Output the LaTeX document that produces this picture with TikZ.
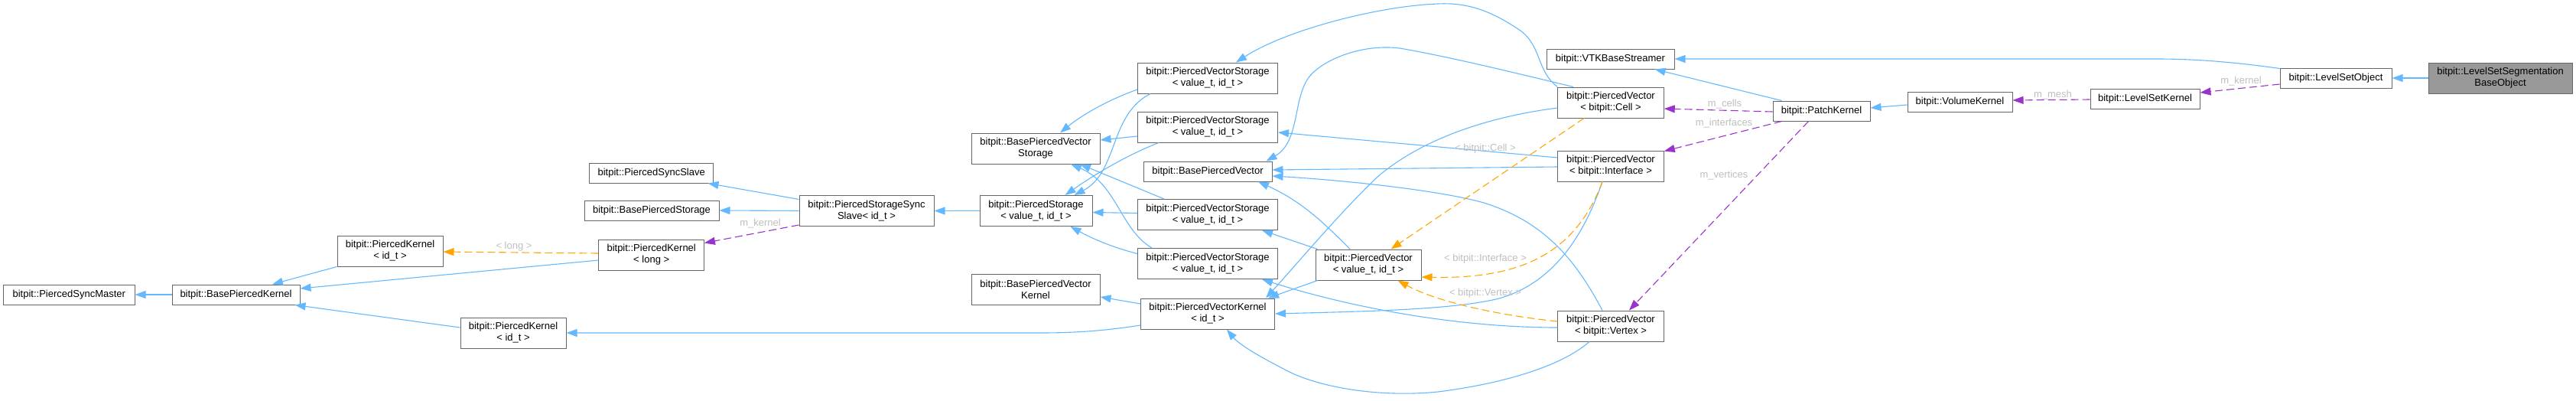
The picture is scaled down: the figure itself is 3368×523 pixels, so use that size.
\documentclass[tikz,border=0pt]{standalone}
\usepackage{fontspec}
\setmainfont{Liberation Sans}
\usetikzlibrary{arrows.meta,calc}
\definecolor{inhblue}{HTML}{63B8FF}
\definecolor{tmplorange}{HTML}{FFA500}
\definecolor{usepurple}{HTML}{9A32CD}
\definecolor{boxborder}{HTML}{666666}
\definecolor{labelgray}{HTML}{BEBEBE}
\definecolor{targetfill}{HTML}{999999}
\tikzset{
  box/.style={draw=boxborder, fill=white, line width=1pt, inner sep=0pt, align=center,
    font=\fontsize{13}{15}\selectfont, text=black},
  tip/.style={-{Triangle[length=14pt,width=10pt]}},
  inh/.style={draw=inhblue, line width=1.1pt, tip},
  tmpl/.style={draw=tmplorange, line width=1.1pt, dash pattern=on 10pt off 5pt, tip},
  usage/.style={draw=usepurple, line width=1.1pt, dash pattern=on 10pt off 5pt, tip},
  elabel/.style={text=labelgray, inner sep=0pt, font=\fontsize{13}{15}\selectfont}
}
\begin{document}
\begin{tikzpicture}[x=1pt,y=-1pt]
\useasboundingbox (0,0) rectangle (3368,523);
% nodes
\node[box, minimum width=171.4pt, minimum height=26pt] (psm) at (90.3,385) {bitpit::PiercedSyncMaster};
\node[box, minimum width=167pt, minimum height=26pt] (bpk) at (308.5,385) {bitpit::BasePiercedKernel};
\node[box, minimum width=138pt, minimum height=40pt] (pku) at (510,328) {bitpit::PiercedKernel\\< id\_t >};
\node[box, minimum width=162.5pt, minimum height=26pt] (pss) at (851.7,226) {bitpit::PiercedSyncSlave};
\node[box, minimum width=176pt, minimum height=26pt] (bps) at (852,275) {bitpit::BasePiercedStorage};
\node[box, minimum width=137.5pt, minimum height=40pt] (pkl) at (851.7,333) {bitpit::PiercedKernel\\< long >};
\node[box, minimum width=138pt, minimum height=40pt] (pkd) at (671,435) {bitpit::PiercedKernel\\< id\_t >};
\node[box, minimum width=176pt, minimum height=40pt] (psss) at (1133,275.5) {bitpit::PiercedStorageSync\\Slave< id\_t >};
\node[box, minimum width=147pt, minimum height=40pt] (ps) at (1354.5,275.5) {bitpit::PiercedStorage\\< value\_t, id\_t >};
\node[box, minimum width=168pt, minimum height=40pt] (bpvs) at (1354,194) {bitpit::BasePiercedVector\\Storage};
\node[box, minimum width=168pt, minimum height=40pt] (bpvk) at (1354,378) {bitpit::BasePiercedVector\\Kernel};
\node[box, minimum width=183pt, minimum height=40pt] (pvs1) at (1579,102) {bitpit::PiercedVectorStorage\\< value\_t, id\_t >};
\node[box, minimum width=183pt, minimum height=40pt] (pvs2) at (1579,166) {bitpit::PiercedVectorStorage\\< value\_t, id\_t >};
\node[box, minimum width=168pt, minimum height=26pt] (bpv) at (1579,224) {bitpit::BasePiercedVector};
\node[box, minimum width=183pt, minimum height=40pt] (pvs3) at (1579,280.5) {bitpit::PiercedVectorStorage\\< value\_t, id\_t >};
\node[box, minimum width=183pt, minimum height=40pt] (pvs4) at (1579,344.5) {bitpit::PiercedVectorStorage\\< value\_t, id\_t >};
\node[box, minimum width=175pt, minimum height=40pt] (pvk) at (1579,410) {bitpit::PiercedVectorKernel\\< id\_t >};
\node[box, minimum width=138pt, minimum height=40pt] (pvt) at (1789,346) {bitpit::PiercedVector\\< value\_t, id\_t >};
\node[box, minimum width=167pt, minimum height=26pt] (vtk) at (2105.5,77) {bitpit::VTKBaseStreamer};
\node[box, minimum width=138.5pt, minimum height=40pt] (pvc) at (2106,134) {bitpit::PiercedVector\\< bitpit::Cell >};
\node[box, minimum width=138.5pt, minimum height=40pt] (pvi) at (2106,217) {bitpit::PiercedVector\\< bitpit::Interface >};
\node[box, minimum width=138.5pt, minimum height=40pt] (pvv) at (2106,426) {bitpit::PiercedVector\\< bitpit::Vertex >};
\node[box, minimum width=127pt, minimum height=26pt] (pk) at (2381.5,145) {bitpit::PatchKernel};
\node[box, minimum width=137pt, minimum height=26pt] (vk) at (2562.5,133) {bitpit::VolumeKernel};
\node[box, minimum width=143pt, minimum height=26pt] (lsk) at (2804.5,129) {bitpit::LevelSetKernel};
\node[box, minimum width=146pt, minimum height=26pt] (lso) at (3054,102) {bitpit::LevelSetObject};
\node[box, fill=targetfill, minimum width=188pt, minimum height=40pt] (lssbo) at (3269,102) {bitpit::LevelSetSegmentation\\BaseObject};
% inheritance (blue)
\draw[inh] (bpk.west) -- (psm.east);
\draw[inh] (pku.south west) -- ($(bpk.north)+(47.5,0)$);
\draw[inh] ($(pkl.west)+(0,7)$) -- ($(bpk.east)+(0,-8)$);
\draw[inh] ($(pkd.west)+(0,-7)$) -- ($(bpk.south east)+(-7,0)$);
\draw[inh] ($(psss.west)+(0,-15)$) -- ($(pss.south east)+(-8,0)$);
\draw[inh] (psss.west) -- (bps.east);
\draw[inh] (ps.west) -- (psss.east);
\draw[inh] ($(pvk.west)+(0,15)$) .. controls (1440,433) and (1400,435) .. (1360,435) -- (pkd.east);
\draw[inh] ($(pvk.west)+(0,-13)$) -- ($(bpvk.east)+(0,10)$);
\draw[inh] ($(pvs1.west)+(0,15)$) .. controls (1450,130) and (1415,150) .. ($(bpvs.north)+(32,0)$);
\draw[inh] ($(pvs1.south west)+(17,0)$) .. controls (1450,150) and (1462,225) .. ($(ps.north)+(50,0)$);
\draw[inh] ($(pvs2.west)+(0,12)$) -- ($(bpvs.east)+(0,-11)$);
\draw[inh] ($(pvs2.south west)+(28,0)$) .. controls (1480,200) and (1440,222) .. ($(ps.north)+(38,0)$);
\draw[inh] ($(pvs3.north west)+(35,0)$) -- ($(bpvs.south)+(58,0)$);
\draw[inh] ($(pvs3.west)+(0,-2)$) -- ($(ps.east)+(0,2)$);
\draw[inh] ($(pvs4.north west)+(19,0)$) .. controls (1465,300) and (1460,240) .. ($(bpvs.south)+(46,0)$);
\draw[inh] ($(pvs4.west)+(0,-13)$) .. controls (1450,322) and (1425,310) .. ($(ps.south)+(45,0)$);
\draw[inh] (pvc.north west) .. controls (2008,92) and (2016,58) .. (1985,38) .. controls (1950,15) and (1920,3) .. (1880,5) .. controls (1800,8) and (1680,40) .. ($(pvs1.north)+(37,0)$);
\draw[inh] ($(pvc.north)+(-49,0)$) .. controls (2000,100) and (1900,75) .. (1830,63) .. controls (1780,57) and (1730,78) .. (1712,100) .. controls (1690,128) and (1700,185) .. ($(bpv.north east)+(-8,0)$);
\draw[inh] ($(pvi.west)+(0,-11)$) -- ($(pvs2.east)+(0,7)$);
\draw[inh] ($(pvi.west)+(0,1)$) -- ($(bpv.east)+(0,-2)$);
\draw[inh] ($(pvv.north)+(-11,0)$) .. controls (2060,340) and (2020,290) .. (1940,265) .. controls (1880,248) and (1750,235) .. ($(bpv.east)+(0,6)$);
\draw[inh] ($(pvt.north)+(-24,0)$) .. controls (1730,290) and (1700,262) .. ($(bpv.south)+(66,0)$);
\draw[inh] ($(pvt.north west)+(3,0)$) -- ($(pvs3.south east)+(-21,0)$);
\draw[inh] ($(pvv.west)+(0,2)$) .. controls (1900,428) and (1760,400) .. ($(pvs4.south east)+(-21,0)$);
\draw[inh] ($(pvt.south west)+(3,0)$) -- ($(pvk.north east)+(-9,0)$);
\draw[inh] ($(pvc.west)+(0,7)$) .. controls (1950,152) and (1860,180) .. (1800,232) .. controls (1750,280) and (1700,340) .. ($(pvk.north east)+(-12,0)$);
\draw[inh] ($(pvi.south)+(-11,0)$) .. controls (2070,310) and (2030,370) .. (1960,390) .. controls (1900,405) and (1780,407) .. (pvk.east);
\draw[inh] ($(pvv.south)+(-28,0)$) .. controls (2040,480) and (1960,502) .. (1880,512) .. controls (1800,520) and (1720,505) .. (1680,483) .. controls (1645,465) and (1620,450) .. ($(pvk.south)+(25,0)$);
\draw[inh] ($(pk.north west)+(12,0)$) -- ($(vtk.south)+(58,0)$);
\draw[inh] ($(vk.west)+(0,4)$) -- ($(pk.east)+(0,-4)$);
\draw[inh] ($(lso.north west)+(0,1)$) .. controls (2920,81) and (2870,77) .. (2820,77) -- (vtk.east);
\draw[inh] (lssbo.west) -- (lso.east);
% template instances (orange)
\draw[tmpl] ($(pvc.south)+(-35,0)$) -- ($(pvt.north east)+(-40,0)$);
\draw[tmpl] ($(pvi.south)+(-11,0)$) .. controls (2060,330) and (1990,365) .. ($(pvt.east)+(0,16)$);
\draw[tmpl] ($(pvv.west)+(0,-6)$) .. controls (1960,412) and (1880,395) .. ($(pvt.south east)+(-31,0)$);
\draw[tmpl] ($(pkl.west)+(0,-2)$) -- ($(pku.east)+(0,1)$);
% usage (purple)
\draw[usage] ($(psss.south west)+(0,-2)$) -- ($(pkl.north east)+(0,5)$);
\draw[usage] ($(pk.west)+(0,1)$) -- ($(pvc.east)+(0,8)$);
\draw[usage] ($(pk.south west)+(12,0)$) -- ($(pvi.north east)+(0,1)$);
\draw[usage] ($(pk.south)+(-17,0)$) -- ($(pvv.north)+(24,0)$);
\draw[usage] ($(lsk.west)+(0,1)$) -- ($(vk.east)+(0,-2)$);
\draw[usage] ($(lso.west)+(0,8)$) -- ($(lsk.east)+(0,-8)$);
% labels
\node[elabel] (l1) at (672,322) {< long >};
\node[elabel] (l2) at (1942,194) {< bitpit::Cell >};
\node[elabel] (l3) at (1942,338) {< bitpit::Interface >};
\node[elabel] (l4) at (1942,383) {< bitpit::Vertex >};
\node[elabel] (l5) at (994,292) {m\_kernel};
\node[elabel] (l6) at (2255,136) {m\_cells};
\node[elabel] (l7) at (2254,161) {m\_interfaces};
\node[elabel] (l8) at (2254,229) {m\_vertices};
\node[elabel] (l9) at (2684,124) {m\_mesh};
\node[elabel] (l10) at (2930,106) {m\_kernel};
\end{tikzpicture}
\end{document}
